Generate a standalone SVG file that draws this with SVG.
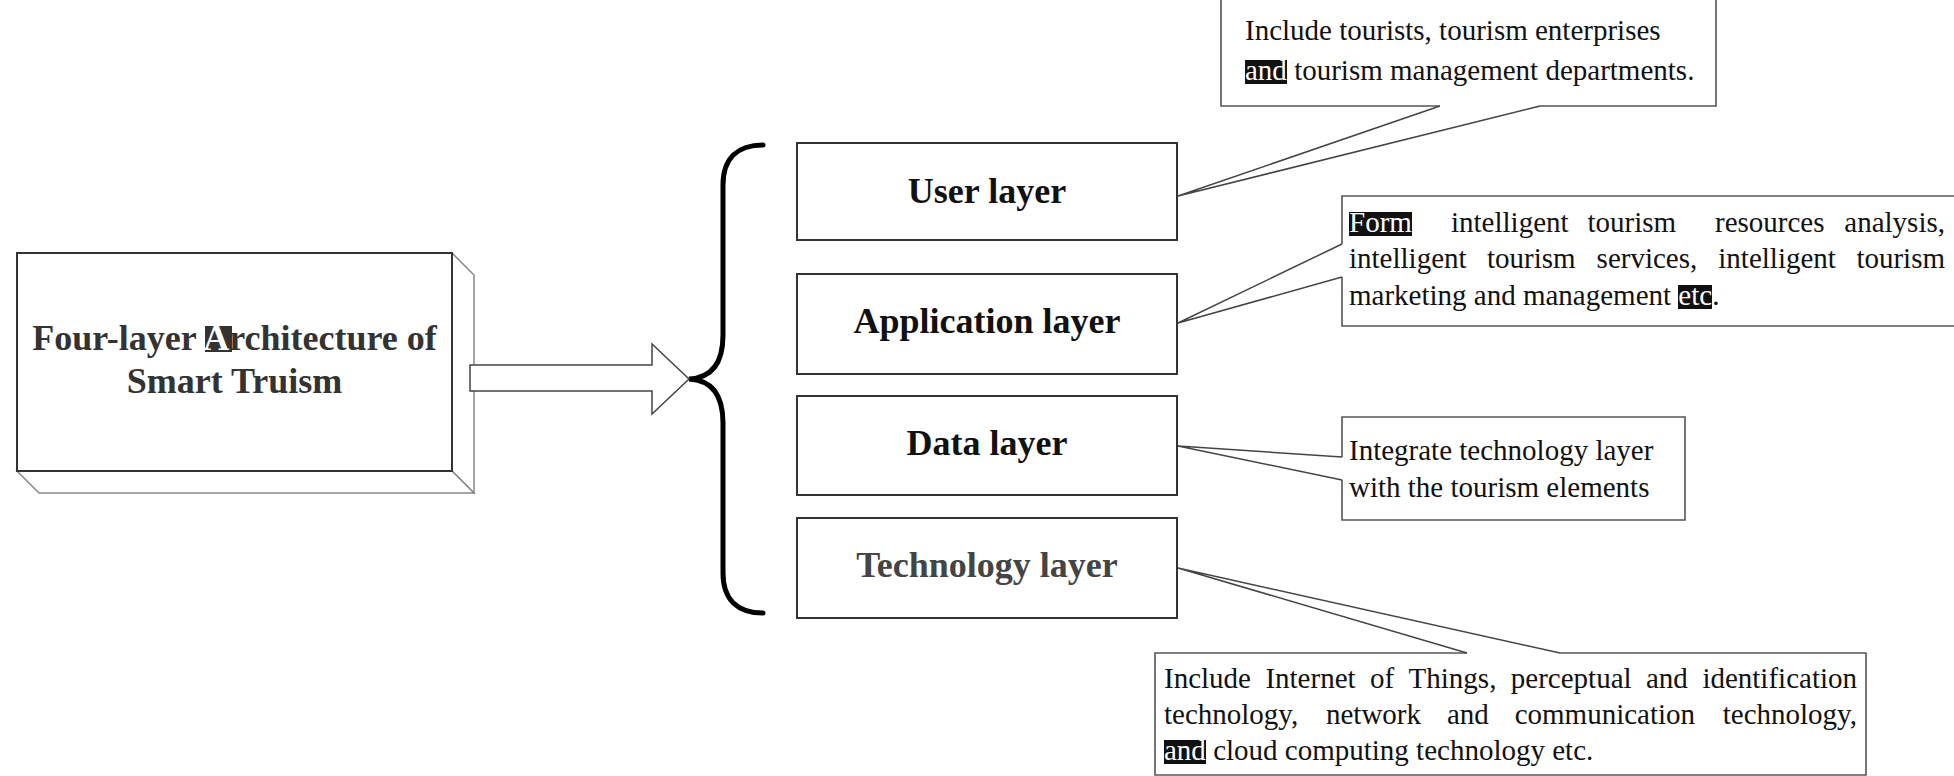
<svg xmlns="http://www.w3.org/2000/svg" width="1954" height="776" viewBox="0 0 1954 776">
<style>
.title{font-family:"Liberation Serif","Times New Roman",serif;font-weight:bold;font-size:36px;fill:#333;text-anchor:middle}
.layer{font-family:"Liberation Serif","Times New Roman",serif;font-weight:bold;font-size:36px;fill:#111;text-anchor:middle}
.note{font-family:"Liberation Serif","Times New Roman",serif;font-size:29px;fill:#111}
.box{fill:#fff;stroke:#333;stroke-width:2}
.face{fill:#fff;stroke:#888;stroke-width:1.5}
.call{fill:#fff;stroke:#555;stroke-width:1.6}
.lead{fill:none;stroke:#444;stroke-width:1.5}
.hl{fill:#111}
.inv{fill:#fff}
</style>
<rect width="1954" height="776" fill="#fff"/>

<g id="main-box">
  <polygon class="face" points="452,253 474,275 474,493 452,471"/>
  <polygon class="face" points="17,471 452,471 474,493 39,493"/>
  <rect class="box" x="17" y="253" width="435" height="218"/>
  <rect x="205" y="326" width="27" height="26" fill="#333"/>
  <text class="title" x="234.5" y="350">Four-layer <tspan class="inv">A</tspan>rchitecture of</text>
  <text class="title" x="234.5" y="393">Smart Truism</text>
</g>

<g id="brace">
  <path d="M 763 145 C 738 145 723 158 723 185 L 723 335 C 723 365 710 378 689 379 C 710 380 723 393 723 423 L 723 573 C 723 600 738 613 763 613" fill="none" stroke="#000" stroke-width="5" stroke-linecap="round"/>
</g>

<g id="user-layer">
  <rect class="box" x="797" y="143" width="380" height="97"/>
  <text class="layer" x="987" y="203">User layer</text>
</g>
<g id="application-layer">
  <rect class="box" x="797" y="274" width="380" height="100"/>
  <text class="layer" x="987" y="333">Application layer</text>
</g>
<g id="data-layer">
  <rect class="box" x="797" y="396" width="380" height="99"/>
  <text class="layer" x="987" y="455">Data layer</text>
</g>
<g id="technology-layer">
  <rect class="box" x="797" y="518" width="380" height="100"/>
  <text class="layer" x="987" y="577" style="fill:#444">Technology layer</text>
</g>

<g id="note-user">
  <path class="call" d="M 1440 106 L 1221 106 L 1221 -4 L 1716 -4 L 1716 106 L 1540 106"/>
  <text class="note" x="1245" y="40">Include tourists, tourism enterprises</text>
  <rect class="hl" x="1245" y="60" width="42" height="24"/>
  <text class="note" x="1245" y="80"><tspan class="inv">and</tspan> tourism management departments.</text>
</g>

<g id="note-application">
  <path class="call" d="M 1342 244 L 1342 196 L 1960 196 L 1960 326 L 1342 326 L 1342 277"/>
  <rect class="hl" x="1349" y="212" width="63" height="24"/>
  <text class="note" y="232"><tspan x="1349" class="inv">Form</tspan><tspan x="1451">intelligent</tspan><tspan x="1587.5">tourism</tspan><tspan x="1715">resources</tspan><tspan x="1945" text-anchor="end">analysis,</tspan></text>
  <text class="note" y="268"><tspan x="1349">intelligent</tspan><tspan x="1487">tourism</tspan><tspan x="1596.6">services,</tspan><tspan x="1718.3">intelligent</tspan><tspan x="1945" text-anchor="end">tourism</tspan></text>
  <rect class="hl" x="1678" y="285" width="34" height="24"/>
  <text class="note" x="1349" y="305">marketing and management <tspan class="inv">etc</tspan>.</text>
</g>

<g id="note-data">
  <path class="call" d="M 1342 457 L 1342 417 L 1685 417 L 1685 520 L 1342 520 L 1342 480"/>
  <text class="note" x="1349" y="460">Integrate technology layer</text>
  <text class="note" x="1349" y="497">with the tourism elements</text>
</g>

<g id="note-technology">
  <path class="call" d="M 1467 653 L 1155 653 L 1155 775 L 1866 775 L 1866 653 L 1560 653"/>
  <text class="note" y="688"><tspan x="1164">Include</tspan><tspan x="1265.4">Internet</tspan><tspan x="1370">of</tspan><tspan x="1408.6">Things,</tspan><tspan x="1510.8">perceptual</tspan><tspan x="1646">and</tspan><tspan x="1857" text-anchor="end">identification</tspan></text>
  <text class="note" y="724"><tspan x="1164">technology,</tspan><tspan x="1326">network</tspan><tspan x="1446.9">and</tspan><tspan x="1514.7">communication</tspan><tspan x="1857" text-anchor="end">technology,</tspan></text>
  <rect class="hl" x="1164" y="740" width="42" height="24"/>
  <text class="note" x="1164" y="760"><tspan class="inv">and</tspan> cloud computing technology etc.</text>
</g>

<g id="connectors">
  <polygon points="470,365 652,365 652,344 689,379 652,414 652,391 470,391" fill="#fff" stroke="#444" stroke-width="1.5"/>
  <polyline class="lead" points="1440,106 1178,196 1540,106"/>
  <polyline class="lead" points="1342,244 1178,323 1342,277"/>
  <polyline class="lead" points="1342,457 1178,446 1342,480"/>
  <polyline class="lead" points="1467,653 1178,568 1560,653"/>
</g>
</svg>
